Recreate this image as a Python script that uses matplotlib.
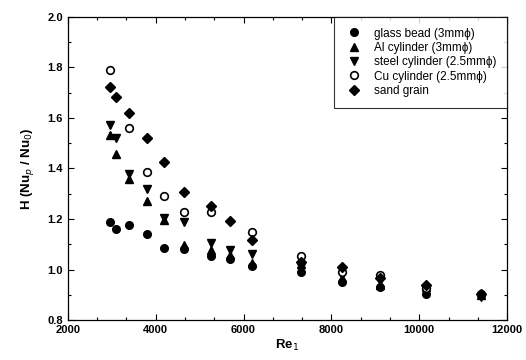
import numpy as np
import matplotlib
matplotlib.use("Agg")
import matplotlib.pyplot as plt
from matplotlib.ticker import MultipleLocator, AutoMinorLocator

plt.rcParams["font.family"] = ["Liberation Sans", "DejaVu Sans"]

# Re_1 positions and H values
re_glass = [2950, 3100, 3400, 3800, 4200, 4650, 5250, 5700, 6200, 7300, 8250, 9100, 10150, 11400]
h_glass = [1.187, 1.162, 1.176, 1.141, 1.085, 1.081, 1.053, 1.042, 1.014, 0.99, 0.95, 0.93, 0.905, 0.90]

re_al = [2950, 3100, 3400, 3800, 4200, 4650, 5250, 5700, 6200, 7300, 8250, 9100, 10150, 11400]
h_al = [1.533, 1.457, 1.36, 1.273, 1.195, 1.097, 1.077, 1.057, 1.024, 1.02, 0.965, 0.94, 0.93, 0.90]

re_steel = [2950, 3100, 3400, 3800, 4200, 4650, 5250, 5700, 6200, 7300, 8250, 9100, 10150, 11400]
h_steel = [1.572, 1.52, 1.38, 1.319, 1.205, 1.187, 1.106, 1.077, 1.061, 1.01, 0.98, 0.955, 0.92, 0.89]

re_cu = [2950, 3400, 3800, 4200, 4650, 5250, 6200, 7300, 8250, 9100, 10150, 11400]
h_cu = [1.79, 1.562, 1.387, 1.291, 1.226, 1.229, 1.147, 1.053, 0.99, 0.98, 0.925, 0.905]

re_sand = [2950, 3100, 3400, 3800, 4200, 4650, 5250, 5700, 6200, 7300, 8250, 9100, 10150, 11400]
h_sand = [1.722, 1.682, 1.619, 1.52, 1.427, 1.308, 1.251, 1.193, 1.117, 1.03, 1.01, 0.965, 0.94, 0.905]

fig = plt.figure(figsize=(5.26, 3.6), dpi=100)
ax = fig.add_axes([0.129, 0.111, 0.835, 0.842])

ms = 5.5
ax.plot(re_glass, h_glass, "o", color="black", ms=ms, ls="none", label="glass bead (3mm\u03d5)")
ax.plot(re_al, h_al, "^", color="black", ms=ms, ls="none", label="Al cylinder (3mm\u03d5)")
ax.plot(re_steel, h_steel, "v", color="black", ms=ms, ls="none", label="steel cylinder (2.5mm\u03d5)")
ax.plot(re_cu, h_cu, "o", mfc="white", mec="black", mew=1.2, ms=ms, ls="none", label="Cu cylinder (2.5mm\u03d5)")
ax.plot(re_sand, h_sand, "D", color="black", ms=ms - 0.8, ls="none", label="sand grain")

ax.set_xlim(2000, 12000)
ax.set_ylim(0.8, 2.0)
ax.xaxis.set_major_locator(MultipleLocator(2000))
ax.xaxis.set_minor_locator(AutoMinorLocator(3))
ax.yaxis.set_major_locator(MultipleLocator(0.2))
ax.yaxis.set_minor_locator(AutoMinorLocator(2))
ax.yaxis.set_major_formatter(plt.FuncFormatter(lambda v, p: f"{v:.1f}"))
ax.tick_params(which="both", direction="in", top=True, right=True, width=0.8)
ax.tick_params(which="major", length=4, labelsize=8)
ax.tick_params(which="minor", length=2)
for lab in ax.get_xticklabels() + ax.get_yticklabels():
    lab.set_fontweight("bold")
for s in ax.spines.values():
    s.set_linewidth(0.9)

ax.set_xlabel("Re$_1$", fontsize=9.5, fontweight="bold", labelpad=2)
ax.set_ylabel("H (Nu$_p$ / Nu$_0$)", fontsize=9.5, fontweight="bold", labelpad=8)

leg = ax.legend(loc="upper right", fontsize=8.5, frameon=True, fancybox=False,
                edgecolor="black", borderaxespad=0, handletextpad=0.9,
                borderpad=0.9, labelspacing=0.2, handlelength=1.6)
leg.get_frame().set_linewidth(0.8)

fig.savefig("out.png", dpi=100)
